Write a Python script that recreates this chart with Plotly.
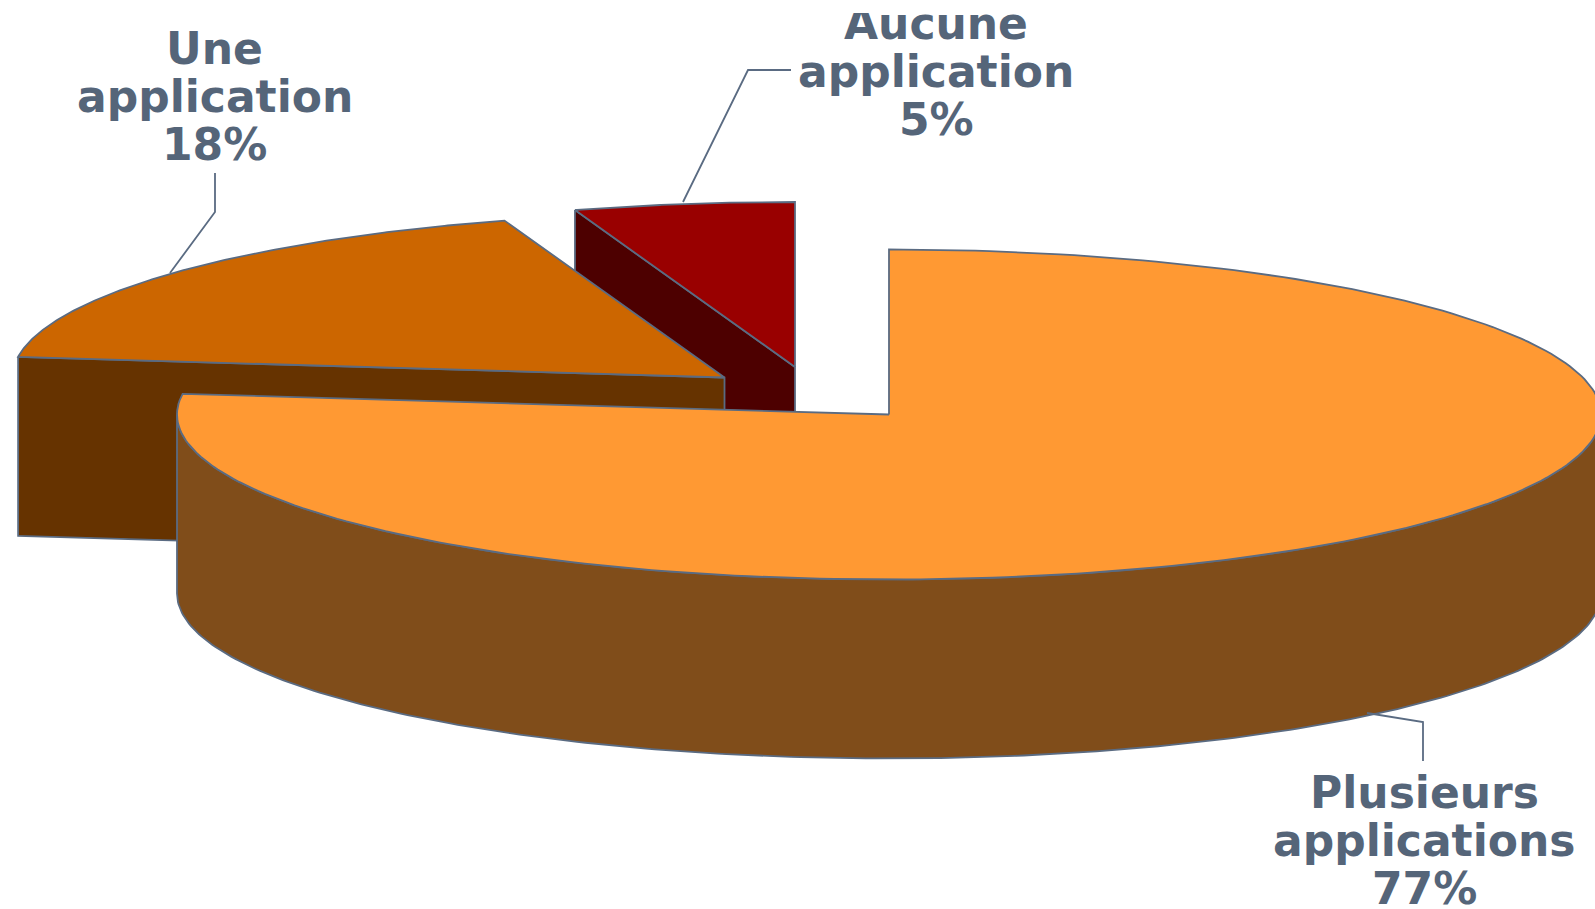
import numpy as np
import plotly.graph_objects as go

categories = ["Plusieurs applications", "Une application", "Aucune application"]
shares = [77, 18, 5]
top_colors = ["#FF9933", "#CC6600", "#990000"]
wall_colors = ["#804D1A", "#663300", "#4D0000"]
apex_x = [889, 724.5, 795]
apex_y = [414.5, 377.5, 367]
label_lines = [["Plusieurs", "applications", "77%"], ["Une", "application", "18%"], ["Aucune", "application", "5%"]]
label_x = [1424, 214.5, 936]
label_base = [808, 64, 39]
leader_x = [[1367, 1423, 1423], [170, 215, 215], [683, 748, 791]]
leader_y = [[713, 722, 761], [273, 212, 173], [202, 70, 70]]

RX, RY, DEPTH = 712, 165, 179
EDGE = "#5A6B82"
TEXT = "#556579"
FONT_SIZE = 44
LINE_H = 48.3

edges = np.concatenate([[0], np.cumsum(shares)]) / sum(shares) * 2 * np.pi


def rim(cx, cy, a0, a1, n=240):
    t = np.linspace(a0, a1, n)
    return cx + RX * np.sin(t), cy - RY * np.cos(t)


def poly(fig, x, y, fill):
    fig.add_trace(go.Scatter(x=list(x) + [x[0]], y=list(y) + [y[0]], mode="lines", fill="toself",
                             fillcolor=fill, line=dict(color=EDGE, width=1.8), hoverinfo="skip", showlegend=False))


fig = go.Figure()
# back to front: Aucune, Une, Plusieurs
for i in [2, 1, 0]:
    cx, cy, a0, a1 = apex_x[i], apex_y[i], edges[i], edges[i + 1]
    if i == 0:
        # outer rim wall, right through bottom to left
        x, y = rim(cx, cy, np.pi / 2, 3 * np.pi / 2)
        poly(fig, np.r_[x, x[::-1]], np.r_[y, y[::-1] + DEPTH], wall_colors[i])
    else:
        # cut face looking towards the viewer
        ex, ey = cx + RX * np.sin(a0), cy - RY * np.cos(a0)
        poly(fig, [ex, cx, cx, ex], [ey, cy, cy + DEPTH, ey + DEPTH], wall_colors[i])
    x, y = rim(cx, cy, a0, a1)
    poly(fig, np.r_[cx, x], np.r_[cy, y], top_colors[i])

for lx, ly in zip(leader_x, leader_y):
    fig.add_trace(go.Scatter(x=lx, y=ly, mode="lines", line=dict(color=EDGE, width=1.8),
                             hoverinfo="skip", showlegend=False))

for lines, x0, base in zip(label_lines, label_x, label_base):
    for j, txt in enumerate(lines):
        fig.add_annotation(x=x0, y=base + j * LINE_H - 0.36 * FONT_SIZE, text=f"<b>{txt}</b>", showarrow=False,
                           xanchor="center", yanchor="middle",
                           font=dict(family="DejaVu Sans", size=FONT_SIZE, color=TEXT))

# the reference crops the top of its highest label
fig.add_annotation(x=936, y=0, yanchor="top", xanchor="center", text=" ", showarrow=False, width=400, height=13,
                   bgcolor="white", borderpad=0, borderwidth=0, font=dict(size=1))

fig.update_layout(width=1595, height=909, margin=dict(l=0, r=0, t=0, b=0),
                  paper_bgcolor="white", plot_bgcolor="white", showlegend=False,
                  xaxis=dict(range=[0, 1595], visible=False, fixedrange=True),
                  yaxis=dict(range=[909, 0], visible=False, fixedrange=True))
fig.write_html("out.html", config={"displayModeBar": False},
               post_script="document.body.style.margin='0';document.body.style.overflow='hidden';")
